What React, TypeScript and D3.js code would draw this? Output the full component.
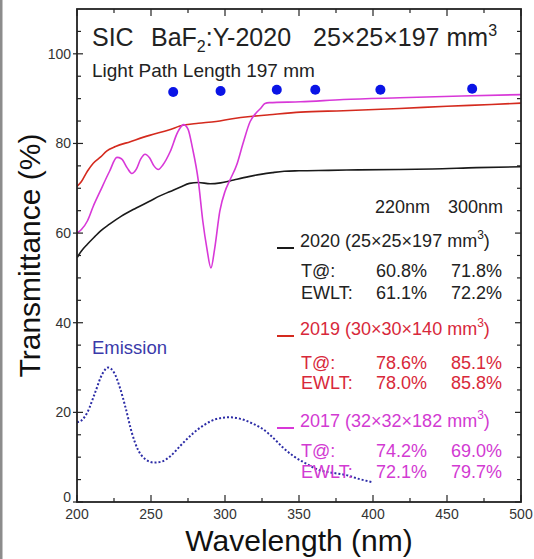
import React from "react";
import * as d3 from "d3";

// ---------- data ----------
const WL_2020 = [200, 203, 207, 212, 216, 222, 230, 240, 249, 256, 263, 270, 276, 282, 290, 297, 303, 308, 316, 324, 332, 340, 350, 370, 390, 418, 440, 470, 500];
const T_2020 = [54.5, 56, 57.5, 59.2, 60.5, 62, 63.8, 65.6, 67.1, 68.3, 69.3, 70.3, 71.1, 71.3, 71.0, 71.2, 71.6, 72.0, 72.6, 73.1, 73.5, 73.8, 73.9, 74.0, 74.1, 74.2, 74.3, 74.6, 74.8];

const WL_2019 = [200, 203, 207, 211, 216, 220, 226, 236, 249, 262, 272, 282, 294, 305, 317, 330, 351, 380, 418, 450, 480, 500];
const T_2019 = [70.4, 71.5, 73.8, 75.6, 77, 78.3, 79.3, 80.4, 81.8, 83, 84.1, 84.5, 84.9, 85.5, 86, 86.4, 87.0, 87.3, 87.8, 88.3, 88.7, 89.0];

const WL_2017 = [200, 203, 207, 211, 215.6, 222, 227, 230, 234, 237, 240, 243, 246, 249, 252, 255, 258, 263, 268, 272, 275, 278, 282, 285, 287.7, 290.5, 293, 296.5, 300, 303, 308, 312, 317, 321, 324, 327, 330, 351, 380, 418, 460, 500];
const T_2017 = [60, 60.8, 62.7, 66, 69.3, 73.8, 76.9, 76.6, 74.5, 73.3, 74.2, 76.5, 77.6, 76.8, 75, 74.2, 75.2, 78.2, 82.5, 84.2, 83.2, 79, 71.6, 62.7, 56.7, 52.2, 56.5, 64.9, 69.3, 71.6, 75.3, 79.8, 84.9, 86.8, 87.8, 88.9, 89.1, 89.3, 89.8, 90.2, 90.6, 90.9];

const WL_EMISSION = [200, 203, 207, 212, 217, 221, 225, 229, 233, 237, 241, 246, 252, 257, 263, 270, 278, 286, 294, 303, 310, 318, 325, 332, 339, 346, 353, 364, 373, 382, 391, 400];
const EMISSION = [17.8, 18.2, 20, 24.2, 28.5, 30, 28.9, 25.5, 20.8, 15.5, 11.8, 9.6, 8.8, 9, 10.2, 12.6, 15.2, 17.2, 18.5, 18.9, 18.6, 17.6, 16.4, 14.5, 12.2, 10.3, 8.9, 7.1, 6.5, 6.0, 5.1, 4.4];

const DOT_WL = [265, 297, 335, 361, 405, 467];
const DOT_T = [91.5, 91.7, 92, 92, 92, 92.2];

const X_TICKS = [200, 225, 250, 275, 300, 325, 350, 375, 400, 425, 450, 475, 500];
const X_LABELS = [200, 250, 300, 350, 400, 450, 500];
const Y_TICKS = [0, 5, 10, 15, 20, 25, 30, 35, 40, 45, 50, 55, 60, 65, 70, 75, 80, 85, 90, 95, 100, 105];
const Y_LABELS = [0, 20, 40, 60, 80, 100];

const COL_HEADERS = ["220nm", "300nm"];
const SAMPLE_YEARS = ["2020", "2019", "2017"];
const SAMPLE_DIMS = ["25×25×197", "30×30×140", "32×32×182"];
const T_AT = [["60.8%", "71.8%"], ["78.6%", "85.1%"], ["74.2%", "69.0%"]];
const EWLT = [["61.1%", "72.2%"], ["78.0%", "85.8%"], ["72.1%", "79.7%"]];

function zip(a, b) {
  return a.map((v, i) => [v, b[i]]);
}

export default function App() {
  const FONT = "'Liberation Sans', Arial, Helvetica, sans-serif";
  const C_BLACK = "#1a1a1a";
  const C_RED = "#d42a1e";
  const C_MAG = "#d838d8";
  const C_BLUE = "#2c2ca6";
  const LINE_COLORS = [C_BLACK, C_RED, C_MAG];
  const TEXT_COLORS = ["#222222", "#d8283a", "#d23ad2"];
  const width = 534, height = 559;
  const pl = 77, pr = 521, pt = 9, pb = 502;

  const x = d3.scaleLinear().domain([200, 500]).range([pl, pr]);
  const y = d3.scaleLinear().domain([0, 110]).range([pb, pt]);
  const line = d3.line().x(d => x(d[0])).y(d => y(d[1])).curve(d3.curveMonotoneX);

  const series = [zip(WL_2020, T_2020), zip(WL_2019, T_2019), zip(WL_2017, T_2017)];

  const legendRows = [
    { title: 247, t: 277, e: 299 },
    { title: 335, t: 369, e: 389 },
    { title: 427, t: 457, e: 478 },
  ];

  return (
    <svg width={width} height={height} style={{ position: "absolute", left: 0, top: 0, background: "#fff" }} fontFamily={FONT}>
      <defs>
        <clipPath id="plotclip"><rect x={pl} y={pt} width={pr - pl} height={pb - pt} /></clipPath>
      </defs>
      <rect x={0} y={0} width={width} height={height} fill="#fff" />
      <rect x={0} y={0} width={2.5} height={height} fill="#8c8c8c" />

      <g clipPath="url(#plotclip)">
        <path d={line(zip(WL_EMISSION, EMISSION)) || ""} fill="none" stroke={C_BLUE} strokeWidth={2} strokeDasharray="2,2" />
        {series.map((s, i) => (
          <path key={i} d={line(s) || ""} fill="none" stroke={LINE_COLORS[i]} strokeWidth={1.6} />
        ))}
        {DOT_WL.map((w, i) => (
          <circle key={i} cx={x(w)} cy={y(DOT_T[i])} r={5} fill="#0a14e6" />
        ))}
      </g>

      <rect x={pl} y={pt} width={pr - pl} height={pb - pt} fill="none" stroke="#222" strokeWidth={1.8} />

      {X_TICKS.map(v => {
        const major = v % 50 === 0;
        const len = major ? 7 : 4;
        return (
          <g key={"xt" + v} stroke="#222" strokeWidth={1.2}>
            <line x1={x(v)} x2={x(v)} y1={pb} y2={pb - len} />
            <line x1={x(v)} x2={x(v)} y1={pt} y2={pt + len} />
          </g>
        );
      })}
      {Y_TICKS.map(v => {
        const major = v % 20 === 0;
        const len = major ? 6 : 4;
        return (
          <g key={"yt" + v} stroke="#222" strokeWidth={1.2}>
            <line x1={major ? pl - 4 : pl} x2={pl + len} y1={y(v)} y2={y(v)} />
            <line x1={pr} x2={pr - len} y1={y(v)} y2={y(v)} />
          </g>
        );
      })}
      {X_LABELS.map(v => (
        <text key={"xl" + v} x={x(v)} y={519} textAnchor="middle" fontSize={14} fill="#333">{v}</text>
      ))}
      {Y_LABELS.map(v => (
        <text key={"yl" + v} x={71} y={y(v) + (v === 0 ? 0 : 5)} textAnchor="end" fontSize={14} fill="#333">{v}</text>
      ))}

      <text x={x(350)} y={551} textAnchor="middle" fontSize={30} fill="#111">Wavelength (nm)</text>
      <text transform={`translate(40,${y(55)}) rotate(-90)`} textAnchor="middle" fontSize={30} fill="#111">Transmittance (%)</text>

      <text y={46} fontSize={25} fill="#222">
        <tspan x={92}>SIC</tspan>
        <tspan x={151}>BaF</tspan>
        <tspan dy={6} fontSize={16}>2</tspan>
        <tspan dy={-6}>:Y-2020</tspan>
        <tspan x={313}>25×25×197 mm</tspan>
        <tspan dy={-10} fontSize={16}>3</tspan>
      </text>
      <text x={92} y={77} fontSize={19} fill="#222">Light Path Length 197 mm</text>

      <text x={92} y={354} fontSize={18.5} fill="#3a3aaa">Emission</text>

      <text x={375} y={213} fontSize={18} fill="#222">{COL_HEADERS[0]}</text>
      <text x={448} y={213} fontSize={18} fill="#222">{COL_HEADERS[1]}</text>
      {SAMPLE_YEARS.map((yr, i) => {
        const r = legendRows[i];
        const c = TEXT_COLORS[i];
        return (
          <g key={yr} fill={c} fontSize={18}>
            <line x1={277} x2={294} y1={r.title + 1} y2={r.title + 1} stroke={LINE_COLORS[i]} strokeWidth={2} />
            <text x={300} y={r.title}>
              {yr + " (" + SAMPLE_DIMS[i] + " mm"}
              <tspan dy={-8} fontSize={12}>3</tspan>
              <tspan dy={8}>)</tspan>
            </text>
            <text x={301} y={r.t}>T@:</text>
            <text x={427} y={r.t} textAnchor="end">{T_AT[i][0]}</text>
            <text x={502} y={r.t} textAnchor="end">{T_AT[i][1]}</text>
            <text x={301} y={r.e}>EWLT:</text>
            <text x={427} y={r.e} textAnchor="end">{EWLT[i][0]}</text>
            <text x={502} y={r.e} textAnchor="end">{EWLT[i][1]}</text>
          </g>
        );
      })}
    </svg>
  );
}
